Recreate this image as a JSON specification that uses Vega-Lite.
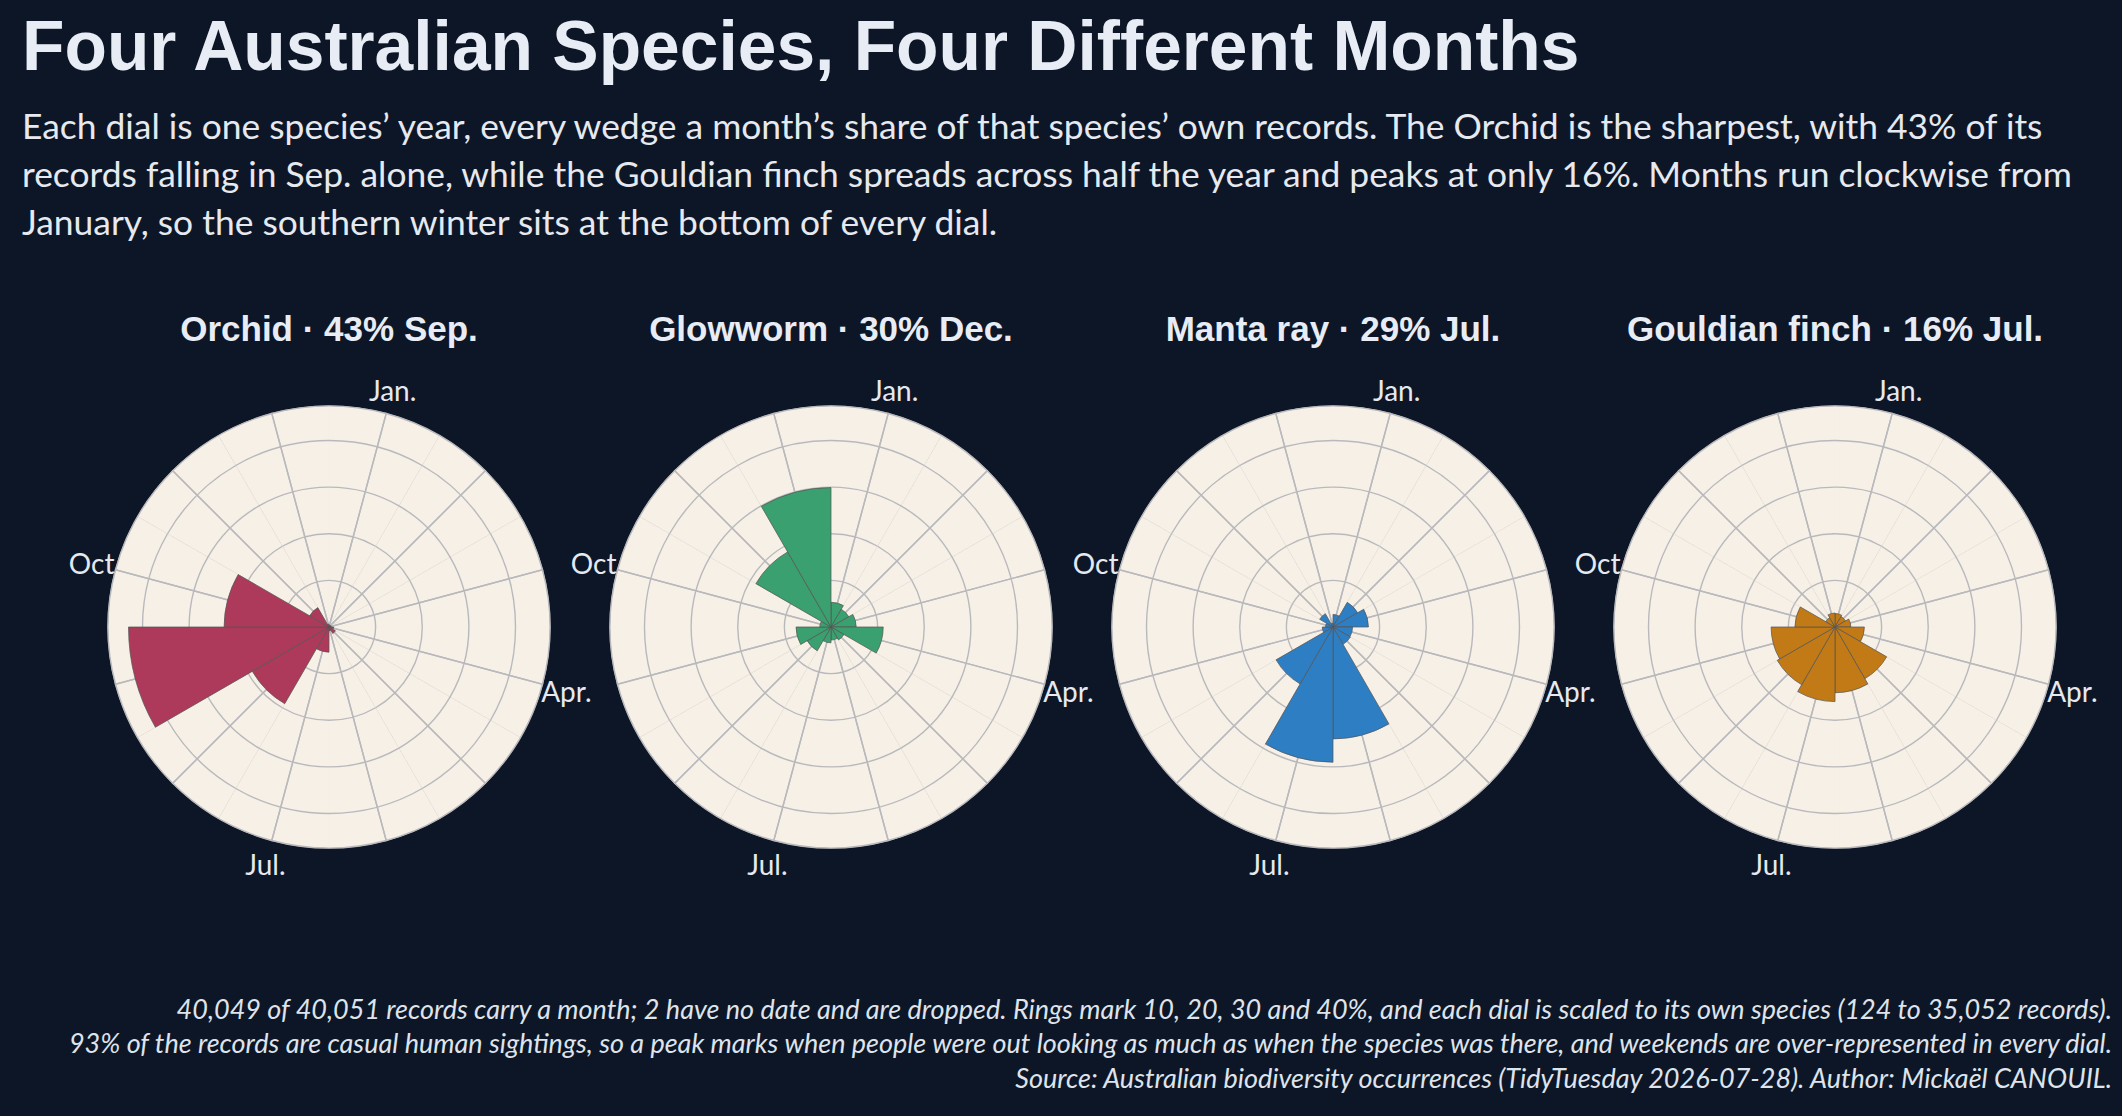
{
  "$schema": "https://vega.github.io/schema/vega-lite/v6.json",
  "background": "#0d1626",
  "padding": {"left": 22, "top": 14, "right": 10, "bottom": 40},
  "title": {
    "text": "Four Australian Species, Four Different Months",
    "subtitle": [
      "Each dial is one species’ year, every wedge a month’s share of that species’ own records. The Orchid is the sharpest, with 43% of its",
      "records falling in Sep. alone, while the Gouldian finch spreads across half the year and peaks at only 16%. Months run clockwise from",
      "January, so the southern winter sits at the bottom of every dial."
    ],
    "anchor": "start",
    "frame": "group",
    "dx": -56,
    "font": "Liberation Sans",
    "fontSize": 69.5,
    "fontWeight": "bold",
    "color": "#e8ecf5",
    "subtitleFont": "Lato",
    "subtitleFontSize": 35.4,
    "subtitleColor": "#e6e9f0",
    "subtitleLineHeight": 48,
    "subtitlePadding": 26,
    "offset": 70
  },
  "vconcat": [
    {
      "data": {
        "values": [
          {"sp": "Orchid", "panel": "Orchid · 43% Sep.", "m": 1, "mon": "Jan.", "share": 0.4},
          {"sp": "Orchid", "panel": "Orchid · 43% Sep.", "m": 2, "mon": "Feb.", "share": 0.4},
          {"sp": "Orchid", "panel": "Orchid · 43% Sep.", "m": 3, "mon": "Mar.", "share": 0.5},
          {"sp": "Orchid", "panel": "Orchid · 43% Sep.", "m": 4, "mon": "Apr.", "share": 1.0},
          {"sp": "Orchid", "panel": "Orchid · 43% Sep.", "m": 5, "mon": "May", "share": 1.6},
          {"sp": "Orchid", "panel": "Orchid · 43% Sep.", "m": 6, "mon": "Jun.", "share": 0.8},
          {"sp": "Orchid", "panel": "Orchid · 43% Sep.", "m": 7, "mon": "Jul.", "share": 5.4},
          {"sp": "Orchid", "panel": "Orchid · 43% Sep.", "m": 8, "mon": "Aug.", "share": 19.0},
          {"sp": "Orchid", "panel": "Orchid · 43% Sep.", "m": 9, "mon": "Sep.", "share": 43.0},
          {"sp": "Orchid", "panel": "Orchid · 43% Sep.", "m": 10, "mon": "Oct", "share": 22.5},
          {"sp": "Orchid", "panel": "Orchid · 43% Sep.", "m": 11, "mon": "Nov.", "share": 4.8},
          {"sp": "Orchid", "panel": "Orchid · 43% Sep.", "m": 12, "mon": "Dec.", "share": 0.6},
          {"sp": "Glowworm", "panel": "Glowworm · 30% Dec.", "m": 1, "mon": "Jan.", "share": 5.3},
          {"sp": "Glowworm", "panel": "Glowworm · 30% Dec.", "m": 2, "mon": "Feb.", "share": 4.4},
          {"sp": "Glowworm", "panel": "Glowworm · 30% Dec.", "m": 3, "mon": "Mar.", "share": 5.4},
          {"sp": "Glowworm", "panel": "Glowworm · 30% Dec.", "m": 4, "mon": "Apr.", "share": 11.2},
          {"sp": "Glowworm", "panel": "Glowworm · 30% Dec.", "m": 5, "mon": "May", "share": 3.2},
          {"sp": "Glowworm", "panel": "Glowworm · 30% Dec.", "m": 6, "mon": "Jun.", "share": 2.8},
          {"sp": "Glowworm", "panel": "Glowworm · 30% Dec.", "m": 7, "mon": "Jul.", "share": 3.4},
          {"sp": "Glowworm", "panel": "Glowworm · 30% Dec.", "m": 8, "mon": "Aug.", "share": 5.9},
          {"sp": "Glowworm", "panel": "Glowworm · 30% Dec.", "m": 9, "mon": "Sep.", "share": 7.5},
          {"sp": "Glowworm", "panel": "Glowworm · 30% Dec.", "m": 10, "mon": "Oct", "share": 2.4},
          {"sp": "Glowworm", "panel": "Glowworm · 30% Dec.", "m": 11, "mon": "Nov.", "share": 18.6},
          {"sp": "Glowworm", "panel": "Glowworm · 30% Dec.", "m": 12, "mon": "Dec.", "share": 29.9},
          {"sp": "Manta ray", "panel": "Manta ray · 29% Jul.", "m": 1, "mon": "Jan.", "share": 2.7},
          {"sp": "Manta ray", "panel": "Manta ray · 29% Jul.", "m": 2, "mon": "Feb.", "share": 6.1},
          {"sp": "Manta ray", "panel": "Manta ray · 29% Jul.", "m": 3, "mon": "Mar.", "share": 7.6},
          {"sp": "Manta ray", "panel": "Manta ray · 29% Jul.", "m": 4, "mon": "Apr.", "share": 4.2},
          {"sp": "Manta ray", "panel": "Manta ray · 29% Jul.", "m": 5, "mon": "May", "share": 4.3},
          {"sp": "Manta ray", "panel": "Manta ray · 29% Jul.", "m": 6, "mon": "Jun.", "share": 24.0},
          {"sp": "Manta ray", "panel": "Manta ray · 29% Jul.", "m": 7, "mon": "Jul.", "share": 29.0},
          {"sp": "Manta ray", "panel": "Manta ray · 29% Jul.", "m": 8, "mon": "Aug.", "share": 14.1},
          {"sp": "Manta ray", "panel": "Manta ray · 29% Jul.", "m": 9, "mon": "Sep.", "share": 2.3},
          {"sp": "Manta ray", "panel": "Manta ray · 29% Jul.", "m": 10, "mon": "Oct", "share": 1.6},
          {"sp": "Manta ray", "panel": "Manta ray · 29% Jul.", "m": 11, "mon": "Nov.", "share": 3.3},
          {"sp": "Manta ray", "panel": "Manta ray · 29% Jul.", "m": 12, "mon": "Dec.", "share": 0.8},
          {"sp": "Gouldian finch", "panel": "Gouldian finch · 16% Jul.", "m": 1, "mon": "Jan.", "share": 2.9},
          {"sp": "Gouldian finch", "panel": "Gouldian finch · 16% Jul.", "m": 2, "mon": "Feb.", "share": 2.6},
          {"sp": "Gouldian finch", "panel": "Gouldian finch · 16% Jul.", "m": 3, "mon": "Mar.", "share": 3.4},
          {"sp": "Gouldian finch", "panel": "Gouldian finch · 16% Jul.", "m": 4, "mon": "Apr.", "share": 6.3},
          {"sp": "Gouldian finch", "panel": "Gouldian finch · 16% Jul.", "m": 5, "mon": "May", "share": 12.8},
          {"sp": "Gouldian finch", "panel": "Gouldian finch · 16% Jul.", "m": 6, "mon": "Jun.", "share": 14.1},
          {"sp": "Gouldian finch", "panel": "Gouldian finch · 16% Jul.", "m": 7, "mon": "Jul.", "share": 16.0},
          {"sp": "Gouldian finch", "panel": "Gouldian finch · 16% Jul.", "m": 8, "mon": "Aug.", "share": 14.3},
          {"sp": "Gouldian finch", "panel": "Gouldian finch · 16% Jul.", "m": 9, "mon": "Sep.", "share": 13.7},
          {"sp": "Gouldian finch", "panel": "Gouldian finch · 16% Jul.", "m": 10, "mon": "Oct", "share": 8.6},
          {"sp": "Gouldian finch", "panel": "Gouldian finch · 16% Jul.", "m": 11, "mon": "Nov.", "share": 2.3},
          {"sp": "Gouldian finch", "panel": "Gouldian finch · 16% Jul.", "m": 12, "mon": "Dec.", "share": 3.0}
        ]
      },
      "facet": {
        "column": {
          "field": "panel",
          "type": "nominal",
          "sort": ["Orchid · 43% Sep.", "Glowworm · 30% Dec.", "Manta ray · 29% Jul.", "Gouldian finch · 16% Jul."],
          "title": null,
          "header": {
            "labelFont": "Liberation Sans",
            "labelFontWeight": "bold",
            "labelFontSize": 35,
            "labelColor": "#e8ecf5",
            "labelPadding": 6,
            "labelBaseline": "alphabetic"
          }
        }
      },
      "spacing": 0,
      "bounds": "flush",
      "spec": {
        "width": 502,
        "height": 490,
        "layer": [
          {
            "mark": {"type": "arc", "fill": "#f6f0e6", "stroke": "#f6f0e6", "strokeWidth": 0.6},
            "encoding": {
              "theta": {"aggregate": "count", "type": "quantitative", "stack": true, "scale": {"domain": [0, 12], "range": [0, 6.283185]}},
              "order": {"field": "m", "type": "quantitative"},
              "radius": {"datum": 47.4, "scale": {"type": "linear", "domain": [0, 47.4], "range": [0, 221]}}
            }
          },
          {
            "mark": {"type": "arc", "fillOpacity": 0, "stroke": "#b9b9bd", "strokeWidth": 1.4},
            "encoding": {
              "theta": {"aggregate": "count", "type": "quantitative", "stack": true},
              "order": {"field": "m", "type": "quantitative"},
              "radius": {"datum": 10},
              "radius2": {"datum": 10}
            }
          },
          {
            "mark": {"type": "arc", "fillOpacity": 0, "stroke": "#b9b9bd", "strokeWidth": 1.4},
            "encoding": {
              "theta": {"aggregate": "count", "type": "quantitative", "stack": true},
              "order": {"field": "m", "type": "quantitative"},
              "radius": {"datum": 20},
              "radius2": {"datum": 20}
            }
          },
          {
            "mark": {"type": "arc", "fillOpacity": 0, "stroke": "#b9b9bd", "strokeWidth": 1.4},
            "encoding": {
              "theta": {"aggregate": "count", "type": "quantitative", "stack": true},
              "order": {"field": "m", "type": "quantitative"},
              "radius": {"datum": 30},
              "radius2": {"datum": 30}
            }
          },
          {
            "mark": {"type": "arc", "fillOpacity": 0, "stroke": "#b9b9bd", "strokeWidth": 1.4},
            "encoding": {
              "theta": {"aggregate": "count", "type": "quantitative", "stack": true},
              "order": {"field": "m", "type": "quantitative"},
              "radius": {"datum": 40},
              "radius2": {"datum": 40}
            }
          },
          {
            "mark": {"type": "arc", "fillOpacity": 0, "stroke": "#b9b9bd", "strokeWidth": 1.4, "thetaOffset": 0.261799, "theta2Offset": -0.261799},
            "encoding": {
              "theta": {"aggregate": "count", "type": "quantitative", "stack": true},
              "order": {"field": "m", "type": "quantitative"},
              "radius": {"datum": 47.4}
            }
          },
          {
            "mark": {"type": "arc", "stroke": "#555555", "strokeWidth": 0.9, "strokeOpacity": 0.8, "thetaOffset": -0.523599},
            "encoding": {
              "theta": {"field": "m", "type": "quantitative", "stack": null},
              "theta2": {"field": "m"},
              "radius": {"field": "share", "type": "quantitative"},
              "color": {
                "field": "sp",
                "type": "nominal",
                "scale": {"domain": ["Orchid", "Glowworm", "Manta ray", "Gouldian finch"], "range": ["#ad3a5a", "#3aa06f", "#2e7ec4", "#c17a15"]},
                "legend": null
              }
            }
          },
          {
            "mark": {"type": "text", "font": "Lato", "fontSize": 28, "color": "#e6e9f0", "align": "center", "baseline": "middle", "dy": 3},
            "encoding": {
              "theta": {"aggregate": "count", "type": "quantitative", "stack": true},
              "order": {"field": "m", "type": "quantitative"},
              "radius": {"datum": 52.7},
              "text": {"condition": {"test": "datum.m % 3 == 1", "field": "mon"}, "value": ""}
            }
          }
        ]
      }
    },
    {
      "width": 2034,
      "height": 1,
      "data": {"values": [{}]},
      "mark": {"type": "rule", "opacity": 0},
      "encoding": {},
      "title": {
        "text": [
          "40,049 of 40,051 records carry a month; 2 have no date and are dropped. Rings mark 10, 20, 30 and 40%, and each dial is scaled to its own species (124 to 35,052 records).",
          "93% of the records are casual human sightings, so a peak marks when people were out looking as much as when the species was there, and weekends are over-represented in every dial.",
          "Source: Australian biodiversity occurrences (TidyTuesday 2026-07-28). Author: Mickaël CANOUIL."
        ],
        "orient": "top",
        "anchor": "end",
        "align": "right",
        "frame": "group",
        "font": "Lato",
        "fontStyle": "italic",
        "fontWeight": "normal",
        "fontSize": 27,
        "lineHeight": 34.5,
        "color": "#dfe3eb",
        "offset": 0
      }
    }
  ],
  "config": {
    "view": {"stroke": null},
    "concat": {"spacing": 114}
  }
}
